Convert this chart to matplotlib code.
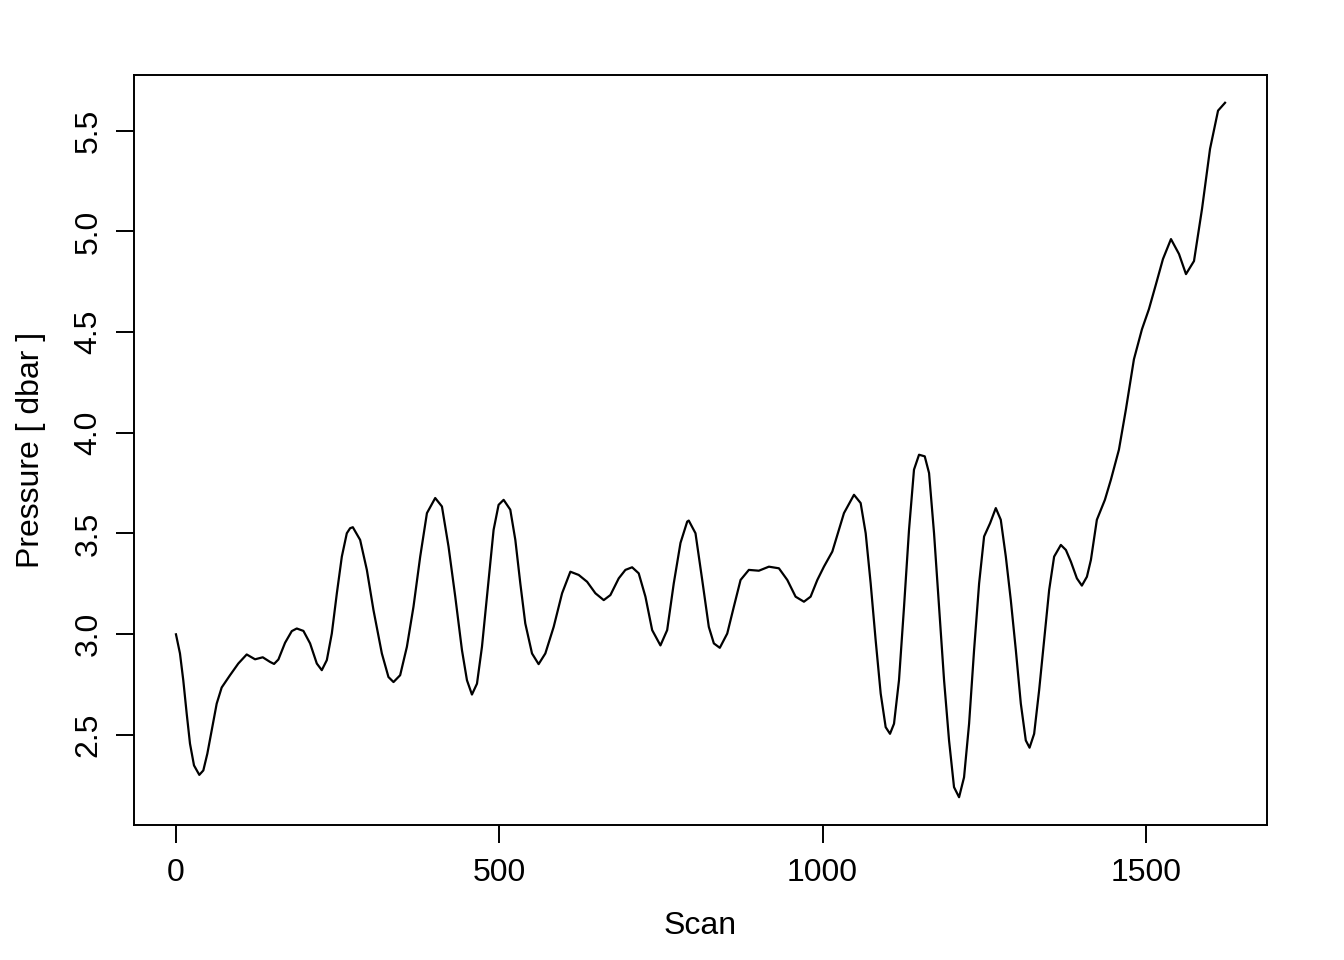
import matplotlib
matplotlib.use("Agg")
import matplotlib.pyplot as plt

plt.rcParams['font.family'] = ['Liberation Sans', 'DejaVu Sans']

# values (scan number, pressure in dbar)
scan = [0, 6.2, 11.3, 16.6, 21.7, 27.9, 36.1, 42.3, 48.5, 55.3, 63.0, 70.7, 83.6,
        96.4, 109.4, 122.3, 134.2, 145.5, 151.7, 158.4, 168.7, 179.1, 186.8, 197.1,
        207.4, 217.8, 225.5, 233.3, 241.0, 248.8, 256.5, 264.2, 269.3,
        273.5, 284.8, 295.2, 305.4, 318.4, 328.6, 336.4, 346.7, 357.1, 367.3, 377.7,
        388.1, 400.9, 411.3, 421.5, 431.9, 442.3, 450.0, 457.7, 465.5, 473.2, 483.4,
        491.2, 498.9,
        506.7, 517.0, 524.8, 532.5, 540.2, 550.6, 560.8, 571.2, 584.1, 597.1, 609.9,
        622.8, 635.8, 648.6, 661.5, 671.8, 684.7, 695.0, 705.4, 715.6, 726.0, 736.4,
        749.2, 759.6, 769.8, 780.2, 790.6,
        793.0, 803.4, 813.8, 824.0, 831.8, 841.0, 852.5, 862.7, 873.1, 885.9, 901.4,
        916.9, 932.4, 945.4, 958.2, 971.1, 981.4, 991.8, 1002.0, 1015.0, 1026.8,
        1033.0, 1048.5, 1058.8, 1066.6, 1074.3, 1082.0, 1089.8, 1097.5, 1104.2,
        1110.4, 1118.1, 1125.9, 1133.6, 1141.3, 1149.1, 1157.9, 1164.6, 1172.3,
        1180.0, 1187.8, 1195.5, 1203.2,
        1211.0, 1218.7, 1226.5, 1234.2, 1242.0, 1249.7, 1259.0, 1267.8, 1275.5,
        1283.3, 1291.0, 1298.8, 1306.5, 1314.2, 1320.0, 1327.1, 1334.8, 1342.6,
        1350.3, 1358.0, 1368.4, 1376.2, 1383.9, 1393.2, 1400.9, 1408.7, 1414.9,
        1424.1, 1436.5, 1445.8, 1458.2, 1469.0, 1481.4, 1493.8, 1504.6, 1515.5,
        1526.3, 1538.7, 1551.1, 1561.9, 1574.3, 1586.7, 1599.1, 1611.5, 1622.3]
pressure = [2.999, 2.904, 2.771, 2.605, 2.456, 2.348, 2.301, 2.323, 2.406, 2.522,
            2.655, 2.735, 2.796, 2.854, 2.899, 2.875, 2.885, 2.862, 2.852, 2.874,
            2.957, 3.015, 3.028, 3.016, 2.954, 2.854, 2.821, 2.871, 3.003, 3.203,
            3.385, 3.501, 3.526,
            3.531, 3.468, 3.319, 3.120, 2.904, 2.787, 2.762, 2.796, 2.937, 3.136,
            3.385, 3.601, 3.676, 3.634, 3.435, 3.186, 2.920, 2.771, 2.700, 2.754,
            2.937, 3.269, 3.518, 3.642,
            3.667, 3.618, 3.468, 3.252, 3.053, 2.904, 2.851, 2.904, 3.036, 3.203,
            3.310, 3.294, 3.260, 3.203, 3.169, 3.194, 3.277, 3.319, 3.332, 3.302,
            3.186, 3.020, 2.944, 3.020, 3.252, 3.453, 3.559,
            3.564, 3.501, 3.269, 3.036, 2.954, 2.932, 3.003, 3.136, 3.269, 3.319,
            3.315, 3.335, 3.327, 3.269, 3.186, 3.161, 3.186, 3.269, 3.335, 3.410,
            3.534,
            3.601, 3.692, 3.651, 3.501, 3.252, 2.970, 2.705, 2.538, 2.505, 2.555,
            2.771, 3.136, 3.518, 3.817, 3.891, 3.883, 3.800, 3.501, 3.136, 2.771,
            2.472, 2.240,
            2.190, 2.289, 2.555, 2.920, 3.252, 3.485, 3.551, 3.626, 3.568, 3.385,
            3.169, 2.920, 2.655, 2.472, 2.436, 2.505, 2.721, 2.970, 3.219, 3.385,
            3.443, 3.418, 3.360, 3.277, 3.241, 3.285, 3.369,
            3.568, 3.667, 3.767, 3.916, 4.116, 4.365, 4.514, 4.614, 4.738, 4.863,
            4.962, 4.888, 4.788, 4.853, 5.112, 5.410, 5.600, 5.639]

xticks = [0, 500, 1000, 1500]
yticks = [2.5, 3.0, 3.5, 4.0, 4.5, 5.0, 5.5]

fig = plt.figure(figsize=(13.44, 9.6), dpi=100)
ax = fig.add_axes([134/1344, 135/960, 1133/1344, 750/960])
ax.plot(scan, pressure, color='black', lw=1.6)

# R style 4% padding
xr = max(scan) - min(scan)
yr = max(pressure) - min(pressure)
ax.set_xlim(min(scan) - 0.04*xr, max(scan) + 0.04*xr)
ax.set_ylim(min(pressure) - 0.04*yr, max(pressure) + 0.04*yr)

ax.set_xticks(xticks)
ax.set_xticklabels([str(t) for t in xticks])
ax.set_yticks(yticks)
ax.set_yticklabels(['%.1f' % t for t in yticks], rotation=90, va='center')
ax.tick_params(labelsize=23, length=13, width=1.4, pad=9, color='black')
ax.tick_params(axis='x', pad=11)
for s in ax.spines.values():
    s.set_linewidth(1.4)

ax.set_xlabel('Scan', fontsize=23)
ax.set_ylabel('Pressure [ dbar ]', fontsize=23)
ax.xaxis.set_label_coords(0.5, -0.114)
ax.yaxis.set_label_coords(-0.078, 0.5)

fig.savefig('out.png', dpi=100)
